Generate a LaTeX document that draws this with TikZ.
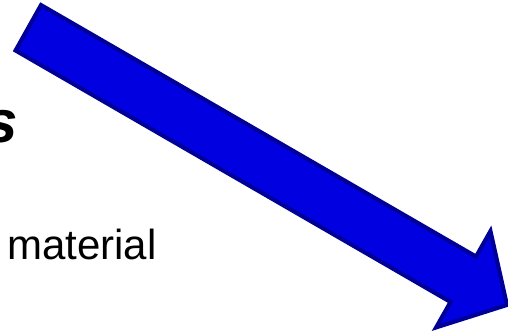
\documentclass[tikz,border=0pt]{standalone}
\usepackage{fontspec}
\setmainfont{Liberation Sans}
\usetikzlibrary{positioning}
\definecolor{arrowfill}{RGB}{0,0,224}
\definecolor{arrowline}{RGB}{0,0,150}
\tikzstyle{bigarrow}=[draw=arrowline,fill=arrowfill,line width=3pt,line join=miter]
\tikzstyle{txt}=[inner sep=0pt,text=black]

\begin{document}
\begin{tikzpicture}[x=0.75pt,y=-0.75pt]
            \useasboundingbox (0,0) rectangle (508,331);
            \draw[bigarrow] (41,5) -- (476,256.5) -- (490.5,231) -- (507,305) -- (436,327.5) -- (450.5,302) -- (15.5,50.5) -- cycle;
            \node[txt, anchor=base east, font=\fontsize{45}{54}\selectfont\bfseries\itshape] (title) at (18,143) {s};
            \node[txt, anchor=base west, font=\fontsize{31.5}{38}\selectfont] (material) at (7,260) {material};
        \end{tikzpicture}
\end{document}
